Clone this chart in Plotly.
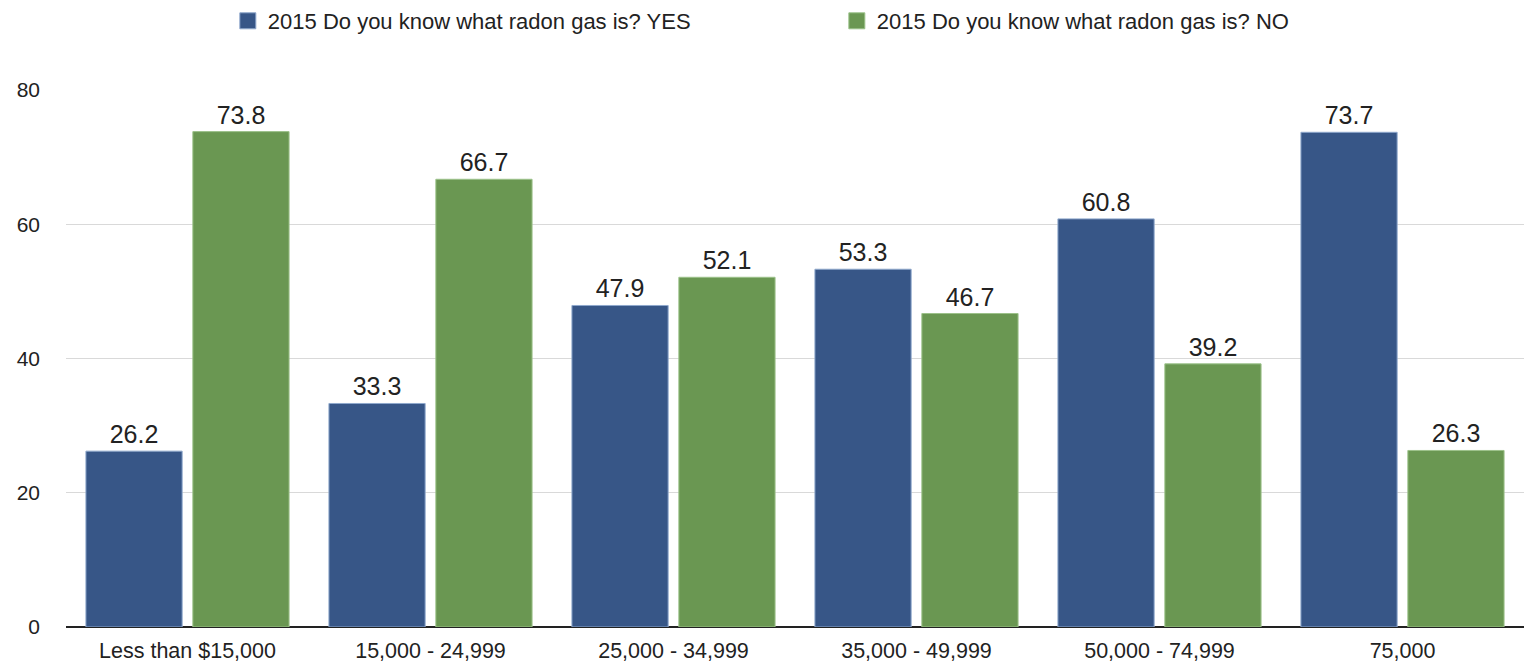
import plotly.graph_objects as go

categories = ["Less than $15,000", "15,000 - 24,999", "25,000 - 34,999",
              "35,000 - 49,999", "50,000 - 74,999", "75,000"]
yes_values = [26.2, 33.3, 47.9, 53.3, 60.8, 73.7]
no_values = [73.8, 66.7, 52.1, 46.7, 39.2, 26.3]
series_names = ["2015 Do you know what radon gas is? YES",
                "2015 Do you know what radon gas is? NO"]
y_ticks = [0, 20, 40, 60, 80]

BLUE = "#375687"
GREEN = "#6a9752"
FONT = "Liberation Sans, Arial, sans-serif"

fig = go.Figure()
series = [(series_names[0], yes_values, BLUE, "#8fa8cc"),
          (series_names[1], no_values, GREEN, "#9cc28a")]
for name, vals, col, edge in series:
    fig.add_trace(go.Bar(
        x=categories, y=vals, name=name, showlegend=False,
        marker=dict(color=col, line=dict(color=edge, width=1)),
        text=[f"{v:.1f}" for v in vals], textposition="outside",
        textfont=dict(size=25, color="#222222", family=FONT),
        cliponaxis=False,
    ))

# larger square swatches for the legend
for name, vals, col, edge in series:
    fig.add_trace(go.Scatter(
        x=[None], y=[None], mode="markers", name=name,
        marker=dict(symbol="square", size=16, color=col,
                    line=dict(color=edge, width=1)),
    ))

fig.update_layout(
    width=1524, height=663,
    margin=dict(l=66, r=0, t=90, b=36),
    paper_bgcolor="white", plot_bgcolor="white",
    barmode="group", bargap=0.12, bargroupgap=0.1,
    font=dict(family=FONT, size=21, color="#222222"),
    showlegend=True,
    legend=dict(orientation="h", x=0.111, y=1.0, yref="container",
                xanchor="left", yanchor="top",
                entrywidth=564, entrywidthmode="pixels",
                font=dict(size=22, color="#222222")),
    xaxis=dict(showgrid=False, ticks="", tickfont=dict(size=21.5),
               showline=False, ticklabelstandoff=8),
    yaxis=dict(range=[0, 80], tickvals=y_ticks, showgrid=True,
               gridcolor="#d9d9d9", gridwidth=1, zeroline=True,
               zerolinecolor="#222222", zerolinewidth=2,
               tickfont=dict(size=21), ticklabelstandoff=25),
)

fig.write_html("out.html")
